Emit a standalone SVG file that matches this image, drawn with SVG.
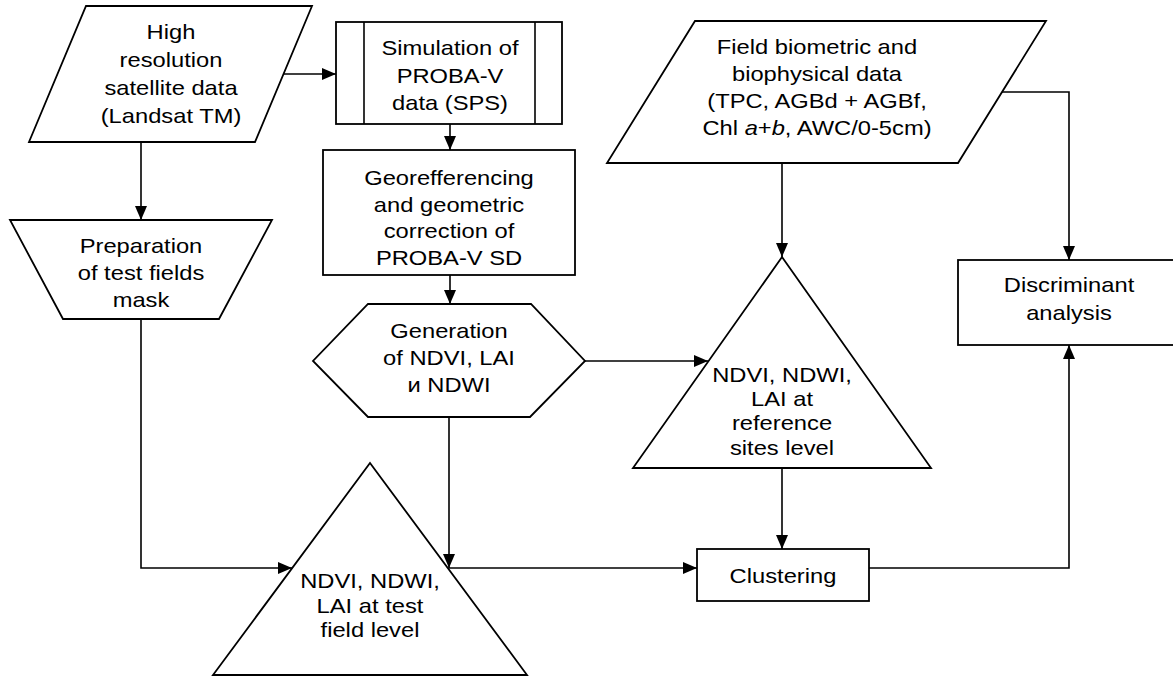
<svg xmlns="http://www.w3.org/2000/svg" width="1173" height="677" viewBox="0 0 1173 677">
<style>
.shape{fill:#fff;stroke:#000;stroke-width:1.8;stroke-linejoin:miter}
.conn{fill:none;stroke:#000;stroke-width:1.6}
.t{font-family:"Liberation Sans",Arial,sans-serif;font-size:21px;fill:#000;text-anchor:middle}
</style>
<defs>
<marker id="arr" markerUnits="userSpaceOnUse" markerWidth="14" markerHeight="12" refX="14" refY="6" orient="auto">
<path d="M0,0 L14,6 L0,12 z" fill="#000"/>
</marker>
</defs>
<rect width="1173" height="677" fill="#fff"/>

<g id="connectors">
<path class="conn" d="M283.5,74 H336" marker-end="url(#arr)"/>
<path class="conn" d="M450,124 V150" marker-end="url(#arr)"/>
<path class="conn" d="M450,275 V304" marker-end="url(#arr)"/>
<path class="conn" d="M141,142 V220" marker-end="url(#arr)"/>
<path class="conn" d="M141,319 V568 H292" marker-end="url(#arr)"/>
<path class="conn" d="M449,417 V568" marker-end="url(#arr)"/>
<path class="conn" d="M585,361 H708" marker-end="url(#arr)"/>
<path class="conn" d="M782,163 V257" marker-end="url(#arr)"/>
<path class="conn" d="M1002,92 H1069 V260" marker-end="url(#arr)"/>
<path class="conn" d="M782,468 V549" marker-end="url(#arr)"/>
<path class="conn" d="M449,568 H697" marker-end="url(#arr)"/>
<path class="conn" d="M869,568 H1069 V345" marker-end="url(#arr)"/>
</g>

<g id="n-highres">
<polygon class="shape" points="86,6 312,6 255,142 29,142"/>
<g transform="translate(171,0) scale(1.13,1)">
<text class="t" x="0" y="39">High</text>
<text class="t" x="0" y="67">resolution</text>
<text class="t" x="0" y="95">satellite data</text>
<text class="t" x="0" y="123">(Landsat TM)</text>
</g>
</g>

<g id="n-sps">
<rect class="shape" x="336" y="22" width="226" height="102"/>
<line class="conn" x1="364" y1="22" x2="364" y2="124"/>
<line class="conn" x1="535" y1="22" x2="535" y2="124"/>
<g transform="translate(450,0) scale(1.13,1)">
<text class="t" x="0" y="55">Simulation of</text>
<text class="t" x="0" y="83">PROBA-V</text>
<text class="t" x="0" y="110">data (SPS)</text>
</g>
</g>

<g id="n-geo">
<rect class="shape" x="323" y="150" width="252" height="125"/>
<g transform="translate(449,0) scale(1.13,1)">
<text class="t" x="0" y="185">Georefferencing</text>
<text class="t" x="0" y="212">and geometric</text>
<text class="t" x="0" y="238">correction of</text>
<text class="t" x="0" y="265">PROBA-V SD</text>
</g>
</g>

<g id="n-gen">
<polygon class="shape" points="368,304 531,304 585,361 530,417 368,417 313,361"/>
<g transform="translate(449,0) scale(1.13,1)">
<text class="t" x="0" y="338">Generation</text>
<text class="t" x="0" y="365">of NDVI, LAI</text>
<text class="t" x="0" y="392">и NDWI</text>
</g>
</g>

<g id="n-mask">
<polygon class="shape" points="10,220 272,220 219,319 63,319"/>
<g transform="translate(141,0) scale(1.13,1)">
<text class="t" x="0" y="253">Preparation</text>
<text class="t" x="0" y="280">of test fields</text>
<text class="t" x="0" y="307">mask</text>
</g>
</g>

<g id="n-testfield">
<polygon class="shape" points="370,463 527,675 213,675"/>
<g transform="translate(370,0) scale(1.13,1)">
<text class="t" x="0" y="588">NDVI, NDWI,</text>
<text class="t" x="0" y="613">LAI at test</text>
<text class="t" x="0" y="637">field level</text>
</g>
</g>

<g id="n-field">
<polygon class="shape" points="695,21 1046,21 958,163 607,163"/>
<g transform="translate(817,0) scale(1.13,1)">
<text class="t" x="0" y="54">Field biometric and</text>
<text class="t" x="0" y="81">biophysical data</text>
<text class="t" x="0" y="108">(TPC, AGBd + AGBf,</text>
<text class="t" x="0" y="135">Chl <tspan font-style="italic">a</tspan>+<tspan font-style="italic">b</tspan>, AWC/0-5cm)</text>
</g>
</g>

<g id="n-refsites">
<polygon class="shape" points="782,257 931,468 633,468"/>
<g transform="translate(782,0) scale(1.13,1)">
<text class="t" x="0" y="382">NDVI, NDWI,</text>
<text class="t" x="0" y="406">LAI at</text>
<text class="t" x="0" y="430">reference</text>
<text class="t" x="0" y="455">sites level</text>
</g>
</g>

<g id="n-cluster">
<rect class="shape" x="697" y="549" width="172" height="52"/>
<g transform="translate(783,0) scale(1.13,1)">
<text class="t" x="0" y="583">Clustering</text>
</g>
</g>

<g id="n-discr">
<rect class="shape" x="958" y="260" width="222" height="85"/>
<g transform="translate(1069,0) scale(1.13,1)">
<text class="t" x="0" y="292">Discriminant</text>
<text class="t" x="0" y="320">analysis</text>
</g>
</g>
</svg>
